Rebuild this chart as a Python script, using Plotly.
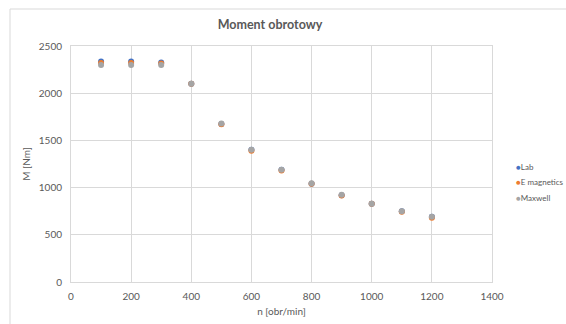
import plotly.graph_objects as go

n_rpm = [100, 200, 300, 400, 500, 600, 700, 800, 900, 1000, 1100, 1200]
lab = [2335, 2335, 2325, 2100, 1675, 1400, 1190, 1040, 920, 830, 750, 690]
emag = [2320, 2320, 2315, 2100, 1670, 1390, 1180, 1040, 915, 830, 745, 680]
maxwell = [2300, 2300, 2300, 2100, 1680, 1400, 1190, 1045, 925, 830, 750, 690]

series_names = ["Lab", "E magnetics", "Maxwell"]
series_vals = [lab, emag, maxwell]
colors = ["#4472C4", "#ED7D31", "#A5A5A5"]

FONT = "Lato"
fig = go.Figure()
for name, vals, c in zip(series_names, series_vals, colors):
    fig.add_trace(go.Scatter(x=n_rpm, y=vals, mode="markers", name=name,
                             marker=dict(color=c, size=6), showlegend=False))

L, R, T, B = 71, 74, 46, 42
W, H = 566, 324
pw, ph = W - L - R, H - T - B

# compact legend as text entries
leg_y_px = [167, 182, 198]
for name, c, ypx in zip(series_names, colors, leg_y_px):
    fig.add_annotation(xref="paper", yref="paper", x=(514 - L) / pw, y=(282 - ypx) / ph,
                       xanchor="left", yanchor="middle", showarrow=False,
                       text=f"<span style='color:{c};font-size:8px'>●</span>{name}",
                       font=dict(family=FONT, size=8, color="#595959"))

fig.update_layout(
    width=W, height=H,
    margin=dict(l=L, r=R, t=T, b=B, autoexpand=False),
    paper_bgcolor="white", plot_bgcolor="white",
    title=dict(text="<b>Moment obrotowy</b>", x=270 / W, xanchor="center",
               y=1 - 25 / H, yanchor="middle",
               font=dict(family=FONT, size=12.5, color="#595959")),
    font=dict(family=FONT, color="#595959"),
    showlegend=False,
    xaxis=dict(range=[0, 1400], dtick=200, showgrid=True, gridcolor="#D9D9D9",
               zeroline=False, showline=True, linecolor="#D9D9D9", mirror=True,
               ticks="", tickfont=dict(family=FONT, size=10, color="#595959"),
               automargin=False, ticklabelstandoff=5,
               title=dict(text="n [obr/min]", font=dict(family=FONT, size=10, color="#595959"),
                          standoff=6)),
    yaxis=dict(range=[0, 2500], dtick=500, showgrid=True, gridcolor="#D9D9D9",
               zeroline=False, showline=True, linecolor="#D9D9D9", mirror=True,
               ticks="", tickfont=dict(family=FONT, size=10, color="#595959"),
               automargin=False, ticklabelstandoff=6,
               title=dict(text="M [Nm]", font=dict(family=FONT, size=10, color="#595959"),
                          standoff=6)),
)
fig.add_shape(type="rect", xref="paper", yref="paper",
              x0=(10 - L) / pw, x1=(590 - L) / pw,
              y0=-(340 - 282) / ph, y1=1 + (T - 9) / ph,
              line=dict(color="#D9D9D9", width=1), fillcolor="rgba(0,0,0,0)", layer="below")
fig.write_html("out.html")
